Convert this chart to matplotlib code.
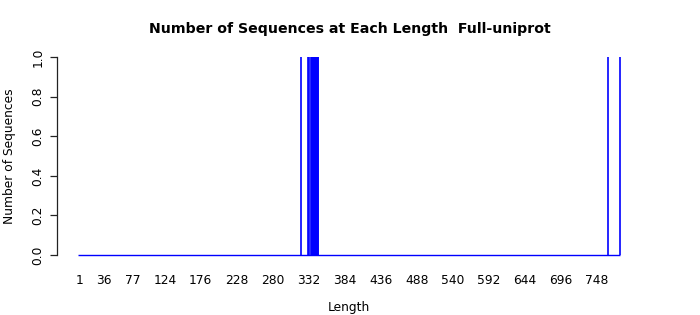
import numpy as np
import matplotlib
matplotlib.use("Agg")
import matplotlib.pyplot as plt

# lengths that have sequences, and how many at each
seq_lengths = [321, 331, 333, 335, 336, 337, 338, 339, 340, 341, 342, 343, 344, 345, 346, 764, 782]
seq_counts = [1, 1, 1, 1, 1, 1, 1, 1, 1, 1, 1, 1, 1, 1, 1, 1, 1]
len_min, len_max = 1, 782

# labels that R's barplot managed to fit under the bars
x_labels = [1, 36, 77, 124, 176, 228, 280, 332, 384, 436, 488, 540, 592, 644, 696, 748]
y_ticks = [0.0, 0.2, 0.4, 0.6, 0.8, 1.0]

title = "Number of Sequences at Each Length  Full-uniprot"

fig = plt.figure(figsize=(7, 3.15), dpi=100)
ax = fig.add_axes([57 / 700, 1 - 263 / 315, (640 - 57) / 700, (263 - 49) / 315])

# zero-height bars show up as a flat blue line along the bottom
ax.hlines(0, len_min - 2, len_max, color="blue", lw=1)
ax.vlines(seq_lengths, 0, seq_counts, color="blue", lw=1.2)

ax.set_xlim(-31.8, 810.7)
ax.set_ylim(-0.04, 1.04)

for s in ["top", "right", "bottom"]:
    ax.spines[s].set_visible(False)
ax.spines["left"].set_bounds(0, 1)
ax.spines["left"].set_color("#222222")
ax.spines["left"].set_linewidth(0.9)

ax.set_yticks(y_ticks)
ax.set_yticklabels([f"{v:.1f}" for v in y_ticks], rotation=90, va="center", fontsize=8.8)
ax.tick_params(axis="y", length=5, width=0.9, pad=4, color="#222222")

ax.set_xticks(x_labels)
ax.set_xticklabels([str(v) for v in x_labels], fontsize=8.8)
ax.tick_params(axis="x", length=0, pad=8)

ax.set_xlabel("Length", fontsize=8.8, labelpad=10)
ax.set_ylabel("Number of Sequences", fontsize=8.8, labelpad=11.5)
fig.text(0.5, 1 - 29 / 315, title, ha="center", va="center", fontsize=10.2, fontweight="bold")

fig.savefig("out.png", dpi=100)
